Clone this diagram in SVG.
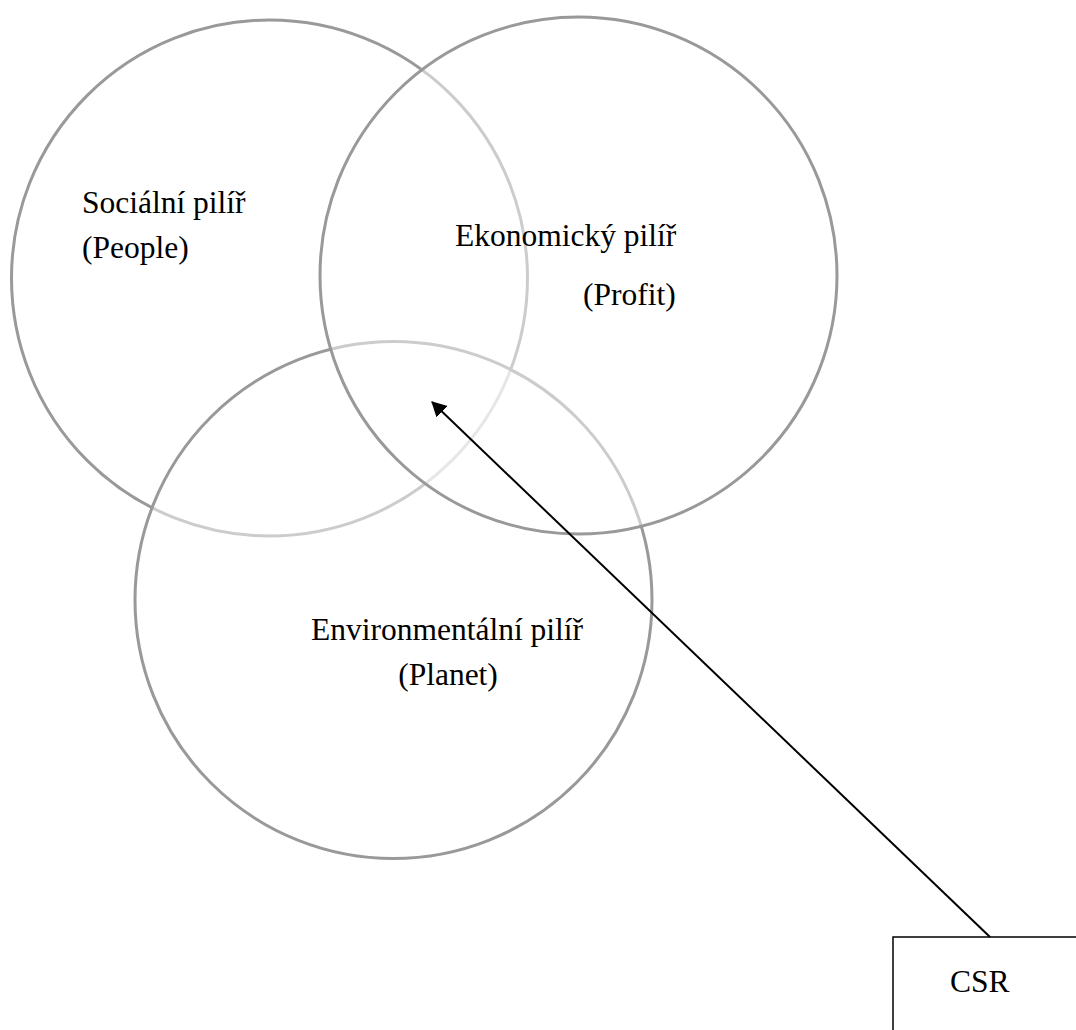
<svg xmlns="http://www.w3.org/2000/svg" width="1076" height="1030" viewBox="0 0 1076 1030">
  <style>
    .pillar { fill: #ffffff; fill-opacity: 0.5; stroke: #999999; stroke-width: 3; }
    .label { font-family: "Liberation Serif", "Times New Roman", serif; font-size: 31.5px; fill: #000000; }
    .conn { stroke: #000000; stroke-width: 2; fill: none; }
  </style>
  <defs>
    <marker id="arrowhead" markerUnits="userSpaceOnUse" markerWidth="16" markerHeight="18" refX="14" refY="8" orient="auto">
      <path d="M0,0 L15,8 L0,16 Z" fill="#000000"/>
    </marker>
  </defs>
  <rect width="1076" height="1030" fill="#ffffff"/>
  <g id="social">
    <circle class="pillar" cx="269.5" cy="278" r="258"/>
  </g>
  <g id="environmental">
    <circle class="pillar" cx="393.5" cy="600" r="258.5"/>
  </g>
  <g id="economic">
    <circle class="pillar" cx="578.5" cy="275.5" r="258.5"/>
  </g>
  <g id="social-label">
    <text class="label" x="82" y="213">Sociální pilíř</text>
    <text class="label" x="82" y="258">(People)</text>
  </g>
  <g id="economic-label">
    <text class="label" x="455" y="246">Ekonomický pilíř</text>
    <text class="label" x="583" y="305">(Profit)</text>
  </g>
  <g id="environmental-label">
    <text class="label" x="447" y="640" text-anchor="middle">Environmentální pilíř</text>
    <text class="label" x="448" y="685" text-anchor="middle">(Planet)</text>
  </g>
  <g id="csr">
    <rect x="893" y="937" width="200" height="150" fill="none" stroke="#000000" stroke-width="1.5"/>
    <text class="label" x="950" y="992">CSR</text>
  </g>
  <g id="connectors">
    <line class="conn" x1="990" y1="937" x2="432" y2="402" marker-end="url(#arrowhead)"/>
  </g>
</svg>
